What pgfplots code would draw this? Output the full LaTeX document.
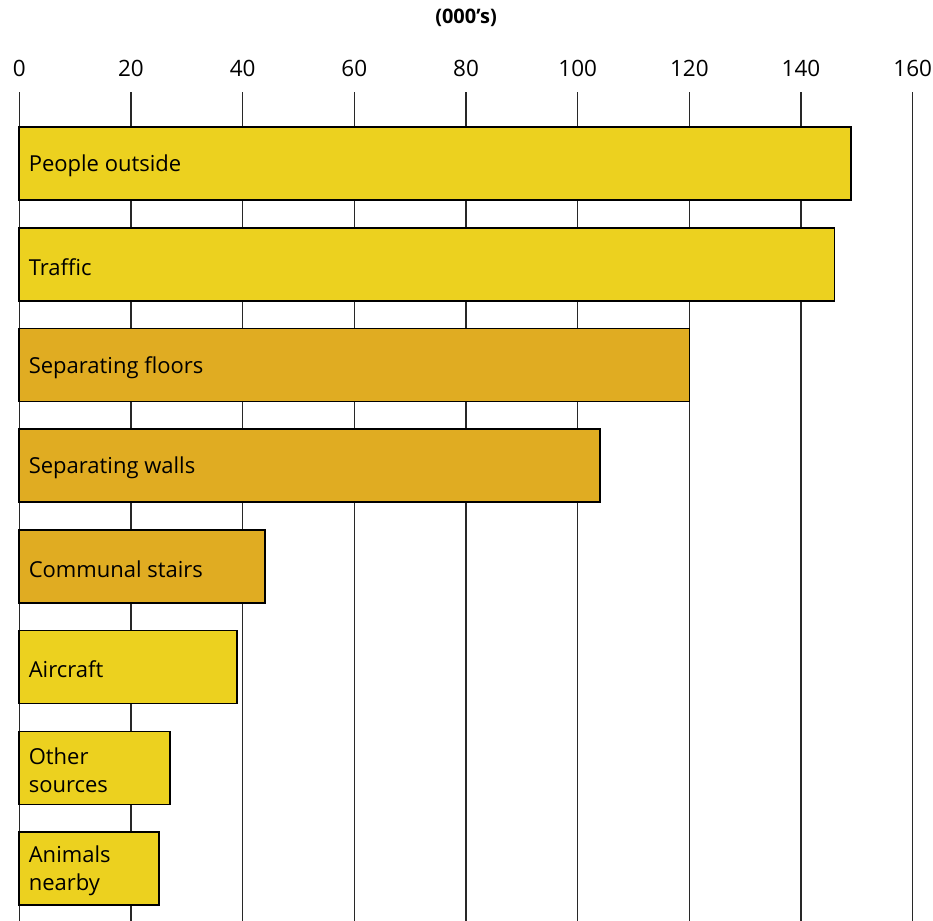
\documentclass[border=0pt]{standalone}
\usepackage{pgfplots}
\pgfplotsset{compat=1.18}
\usepackage{fontspec}
\setmainfont{Open Sans}
\definecolor{ylw}{RGB}{236,209,31}
\definecolor{org}{RGB}{224,172,34}
\definecolor{gridc}{RGB}{40,40,40}
\tikzset{lbl/.style={font=\fontsize{22bp}{28bp}\selectfont, anchor=west, align=left, xshift=6bp, yshift=-2.5bp, text=black}}
\begin{document}
\begin{tikzpicture}
\begin{axis}[
  name=a, scale only axis, width=893.4bp, height=829bp,
  xmin=0, xmax=160, ymin=-0.71, ymax=7.52, y dir=reverse,
  clip=false,
  xbar, bar width=73bp, bar shift=0pt,
  xtick={0,20,...,160}, xticklabel pos=upper,
  xmajorgrids, grid style={gridc, line width=1.3bp},
  axis line style={draw=none}, major tick length=0pt,
  /pgf/number format/assume math mode=true,
  xticklabel style={font=\fontsize{22.5bp}{26bp}\selectfont, yshift=12bp},
  ytick=\empty,
  every axis plot/.append style={draw=black, line width=1.6bp},
]
\addplot[fill=ylw] coordinates {(149,0) (146,1) (39,5) (27,6) (25,7)};
\addplot[fill=org] coordinates {(120,2) (104,3) (44,4)};
\node[lbl] at (axis cs:0,0) {People outside};
\node[lbl] at (axis cs:0,1) {Traffic};
\node[lbl] at (axis cs:0,2) {Separating floors};
\node[lbl] at (axis cs:0,3) {Separating walls};
\node[lbl] at (axis cs:0,4) {Communal stairs};
\node[lbl] at (axis cs:0,5) {Aircraft};
\node[lbl] at (axis cs:0,6) {Other\\sources};
\node[lbl] at (axis cs:0,7) {Animals\\nearby};
\node[font=\bfseries\fontsize{20bp}{24bp}\selectfont] at (axis cs:80,-0.71) [yshift=74bp] {(000’s)};
\end{axis}
\pgfresetboundingbox
\path (a.south west) ++(-19.3bp,0) rectangle ++(933bp,921bp);
\end{tikzpicture}
\end{document}
